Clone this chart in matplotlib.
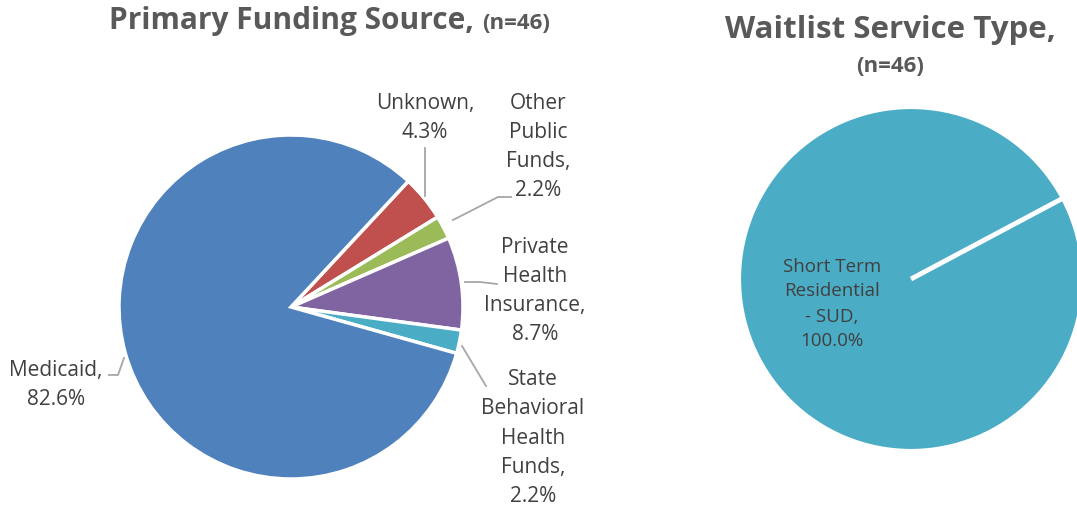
import numpy as np
import matplotlib.pyplot as plt

plt.rcParams['font.family'] = ['Open Sans', 'DejaVu Sans']

# Primary funding source (left pie)
funding_labels = ['Unknown', 'Other\nPublic\nFunds', 'Private\nHealth\nInsurance',
                  'State\nBehavioral\nHealth\nFunds', 'Medicaid']
funding_pct = [4.3, 2.2, 8.7, 2.2, 82.6]
funding_colors = ['#C0504D', '#9BBB59', '#8064A2', '#4BACC6', '#4F81BD']

# Waitlist service type (right pie)
service_labels = ['Short Term\nResidential\n- SUD']
service_pct = [100.0]
service_colors = ['#4BACC6']

W, H = 1077, 507
fig = plt.figure(figsize=(W / 100, H / 100), dpi=100)
ax = fig.add_axes([0, 0, 1, 1])

txt = '#404040'
grey = '#A6A6A6'
title_c = '#595959'

ax.pie(funding_pct, colors=funding_colors, startangle=47, counterclock=False,
       center=(291, 200), radius=172,
       wedgeprops=dict(edgecolor='white', linewidth=2.5))
wedges, _ = ax.pie(service_pct, colors=service_colors, startangle=28, counterclock=False,
                   center=(911, 228), radius=172,
                   wedgeprops=dict(edgecolor='white', linewidth=3))

# a single 100% wedge has no visible radius edge, draw its start edge
w = wedges[0]
a = np.deg2rad(w.theta2)
cx, cy = w.center
ax.plot([cx, cx + w.r * np.cos(a)], [cy, cy + w.r * np.sin(a)], color='white', lw=3.5,
        solid_capstyle='butt')

ax.set_xlim(0, W)
ax.set_ylim(0, H)
ax.set_aspect('equal')
ax.axis('off')

# titles
ax.text(474, H - 29, 'Primary Funding Source,', ha='right', va='baseline',
        fontsize=21.5, fontweight='bold', color=title_c)
ax.text(482, H - 29, '(n=46)', ha='left', va='baseline',
        fontsize=16, fontweight='bold', color=title_c)
ax.text(890, H - 30, 'Waitlist Service Type,', ha='center', va='center',
        fontsize=22.5, fontweight='bold', color=title_c)
ax.text(890, H - 67, '(n=46)', ha='center', va='center',
        fontsize=16, fontweight='bold', color=title_c)

# data labels for left pie
label_pos = [(425, H - 118), (538, H - 147), (535, H - 291), (533, H - 438), (56, H - 385)]
for name, pct, (x, y) in zip(funding_labels, funding_pct, label_pos):
    ax.text(x, y, f'{name},\n{pct:.1f}%', ha='center', va='center',
            fontsize=15, color=txt, linespacing=1.52)

# leader lines
ax.plot([425, 425], [H - 148, H - 196], color=grey, lw=1.3)
ax.plot([453, 498, 511], [H - 220, H - 197, H - 197], color=grey, lw=1.3)
ax.plot([465, 480, 497], [H - 282, H - 282, H - 284], color=grey, lw=1.3)
ax.plot([462, 486], [H - 346, H - 386], color=grey, lw=1.3)
ax.plot([109, 118, 124], [H - 375, H - 375, H - 358], color=grey, lw=1.3)

# data label for right pie
ax.text(832, H - 304, f'{service_labels[0]},\n{service_pct[0]:.1f}%', ha='center',
        va='center', fontsize=13.5, color=txt, linespacing=1.5)

fig.savefig('out.png', dpi=100)
